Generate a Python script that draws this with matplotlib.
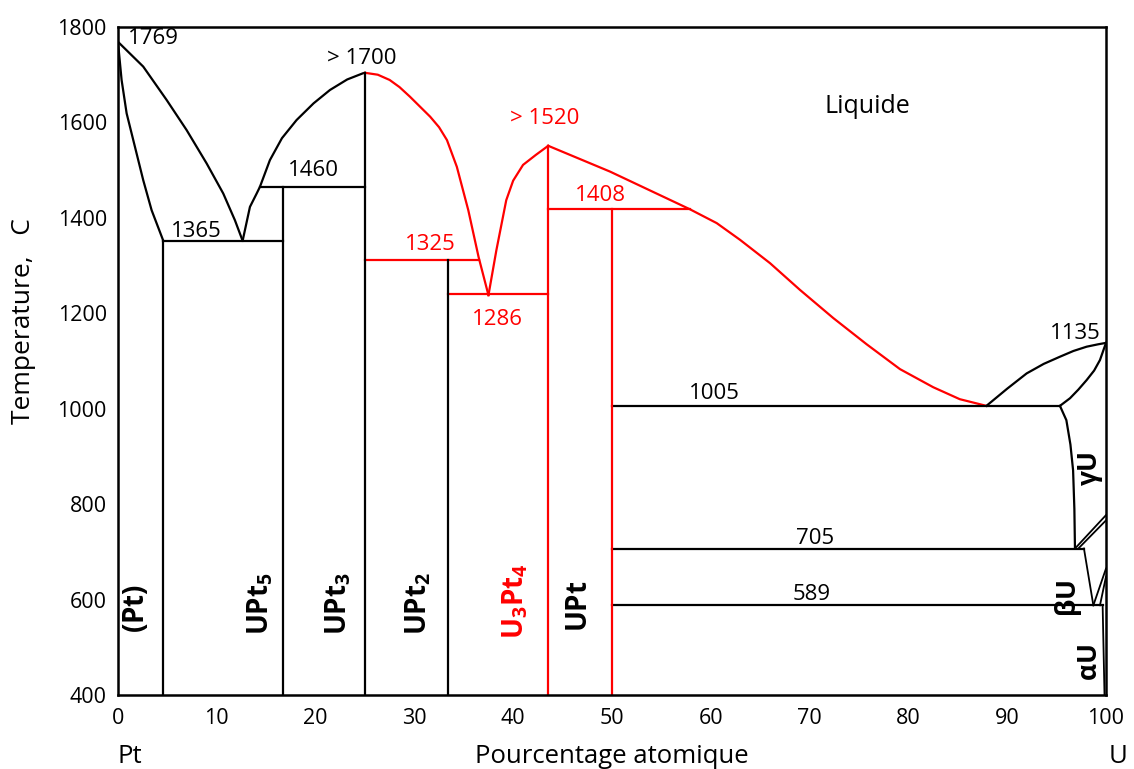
import numpy as np
import matplotlib
matplotlib.use('Agg')
import matplotlib.pyplot as plt
import matplotlib.transforms as mtransforms

plt.rcParams['font.family'] = ['Open Sans', 'DejaVu Sans']
plt.rcParams['mathtext.fontset'] = 'custom'
plt.rcParams['mathtext.bf'] = 'Open Sans:bold'
plt.rcParams['mathtext.rm'] = 'Open Sans'

RED = '#ff0000'

# --- curves (at.% U, temperature) ---
pt_solidus_x = [0, 0.37, 0.88, 1.72, 2.56, 3.41, 4.59]
pt_solidus_t = [1769, 1689, 1619, 1549, 1479, 1416, 1352]

liq1_x = [0, 2.56, 4.93, 6.95, 8.98, 10.66, 11.84, 12.62]
liq1_t = [1769, 1717, 1647, 1584, 1514, 1451, 1395, 1352]

liq2_x = [12.62, 13.36, 14.04, 14.37, 15.38, 16.6, 18.08, 19.8, 21.46, 23.2, 24.8, 25.0]
liq2_t = [1352, 1423, 1451, 1465, 1521, 1567, 1605, 1640, 1668, 1690, 1703, 1704]

liq3_x = [25.0, 26.3, 27.5, 28.5, 29.55, 31.6, 32.5, 33.3, 34.3, 35.46, 36.5, 37.5]
liq3_t = [1704, 1700, 1689, 1674, 1654, 1612, 1590, 1563, 1507, 1416, 1318, 1238]

liq4_x = [37.5, 38.3, 39.3, 40.0, 41.0, 42.3, 43.55]
liq4_t = [1238, 1332, 1437, 1478, 1511, 1532, 1551]

liq5_x = [43.55, 49.8, 57.89, 60.6, 62.96, 66.0, 69.03, 72.4, 75.78, 79.15,
          82.52, 85.2, 87.9]
liq5_t = [1551, 1497, 1418, 1389, 1354, 1305, 1249, 1190, 1135, 1083,
          1045, 1020, 1006]

liq6_x = [87.9, 90.0, 91.97, 93.7, 95.34, 96.7, 98.04, 99.2, 100]
liq6_t = [1006, 1042, 1074, 1094, 1109, 1121, 1130, 1135, 1138]

gam_solidus_x = [95.34, 96.36, 97.2, 98.04, 98.8, 99.39, 100]
gam_solidus_t = [1006, 1022, 1040, 1060, 1080, 1102, 1138]

gam_solvus_x = [95.34, 95.99, 96.4, 96.67, 96.8, 96.86]
gam_solvus_t = [1006, 976, 925, 871, 790, 707]

# horizontal invariants
iso_x0 = [4.59, 14.37, 25.0, 33.43, 43.55, 50.0, 50.0, 50.0]
iso_x1 = [16.67, 25.0, 36.57, 43.55, 57.89, 95.34, 97.77, 99.66]
iso_t = [1352, 1465, 1312, 1240, 1418, 1006, 707, 588]
iso_red = [False, False, True, True, True, False, False, False]

# compound lines
comp_x = [4.59, 16.67, 25.0, 33.43, 43.55, 50.0]
comp_top = [1352, 1465, 1704, 1312, 1551, 1418]
comp_red = [False, False, False, False, True, True]

# small boundaries near pure U
small_x0 = [96.86, 97.2, 97.77, 98.72, 99.39, 99.66]
small_t0 = [707, 707, 707, 588, 588, 588]
small_x1 = [100, 100, 98.72, 100, 100, 99.85]
small_t1 = [777, 766, 588, 665, 648, 400]

fig = plt.figure(figsize=(11.34, 7.69), dpi=100)
ax = fig.add_axes([0.104, 0.0962, 0.8713, 0.8687])

lw = 1.6
for xs, ts, c in [(pt_solidus_x, pt_solidus_t, 'k'), (liq1_x, liq1_t, 'k'),
                  (liq2_x, liq2_t, 'k'), (liq3_x, liq3_t, RED),
                  (liq4_x, liq4_t, RED), (liq5_x, liq5_t, RED),
                  (liq6_x, liq6_t, 'k'), (gam_solidus_x, gam_solidus_t, 'k'),
                  (gam_solvus_x, gam_solvus_t, 'k')]:
    ax.plot(xs, ts, color=c, lw=lw, solid_joinstyle='round')

for x0, x1, t, r in zip(iso_x0, iso_x1, iso_t, iso_red):
    ax.plot([x0, x1], [t, t], color=RED if r else 'k', lw=lw)

for x, top, r in zip(comp_x, comp_top, comp_red):
    ax.plot([x, x], [400, top], color=RED if r else 'k', lw=lw)

for x0, t0, x1, t1 in zip(small_x0, small_t0, small_x1, small_t1):
    ax.plot([x0, x1], [t0, t1], color='k', lw=1.3)

ax.set_xlim(0, 100)
ax.set_ylim(400, 1800)
ax.set_xticks(np.arange(0, 101, 10))
ax.set_yticks(np.arange(400, 1801, 200))
ax.tick_params(length=0, labelsize=15.5)
ax.tick_params(axis='x', pad=9.5)
ax.tick_params(axis='y', pad=8)
for s in ax.spines.values():
    s.set_linewidth(1.8)

ax.set_ylabel('Temperature,   C', fontsize=19)
ax.yaxis.set_label_coords(-0.083, 0.56)

trans = mtransforms.blended_transform_factory(ax.transData, fig.transFigure)
base = 1 - 763 / 769
fig.text(0, base, 'Pt', transform=trans, fontsize=18.5, ha='left', va='baseline')
fig.text(50, base, 'Pourcentage atomique', transform=trans, fontsize=18.5,
         ha='center', va='baseline')
fig.text(101.2, base, 'U', transform=trans, fontsize=18.5, ha='center', va='baseline')

# temperature annotations
ann_x = [1.0, 7.9, 19.8, 24.7, 31.6, 38.4, 43.2, 48.8, 60.4, 96.9, 70.6, 70.2]
ann_t = [1775, 1372, 1500, 1733, 1345, 1186, 1609, 1446, 1031, 1157, 729, 611]
ann_s = ['1769', '1365', '1460', '> 1700', '1325', '1286', '> 1520', '1408',
         '1005', '1135', '705', '589']
ann_red = [False, False, False, False, True, True, True, True,
           False, False, False, False]
for x, t, s, r in zip(ann_x, ann_t, ann_s, ann_red):
    ax.text(x, t, s, fontsize=16, color=RED if r else 'k',
            ha='left' if s == '1769' else 'center', va='center')

ax.text(75.9, 1634, 'Liquide', fontsize=18, ha='center', va='center')

# phase labels (rotated)
ph_x = [1.9, 14.4, 22.3, 30.4, 40.2, 46.8]
ph_t = [530, 525, 525, 525, 517, 533]
ph_s = [r'$\mathbf{(Pt)}$', r'$\mathbf{UPt_5}$', r'$\mathbf{UPt_3}$',
        r'$\mathbf{UPt_2}$', r'$\mathbf{U_3Pt_4}$', r'$\mathbf{UPt}$']
ph_red = [False, False, False, False, True, False]
for x, t, s, r in zip(ph_x, ph_t, ph_s, ph_red):
    ax.text(x, t, s, fontsize=20, rotation=90, color=RED if r else 'k',
            ha='center', va='bottom')

u_x = [98.4, 96.2, 98.4]
u_t = [875, 603, 467]
u_s = [r'$\mathbf{\gamma U}$', r'$\mathbf{\beta U}$', r'$\mathbf{\alpha U}$']
for x, t, s in zip(u_x, u_t, u_s):
    ax.text(x, t, s, fontsize=19, rotation=90, ha='center', va='center')

fig.savefig('out.png', dpi=100)
